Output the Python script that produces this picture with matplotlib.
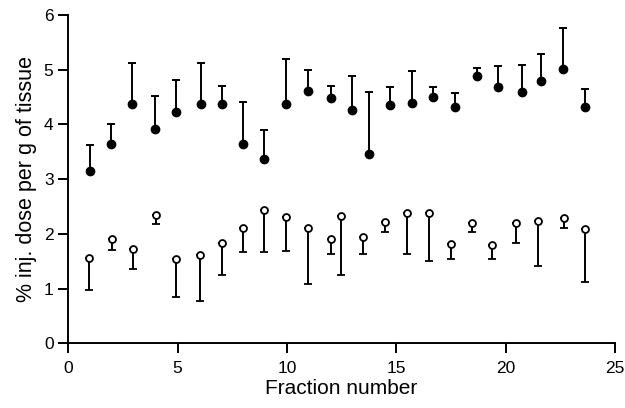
import numpy as np
import matplotlib
matplotlib.use('Agg')
import matplotlib.pyplot as plt

plt.rcParams['font.family'] = ['Liberation Sans', 'DejaVu Sans']

# filled circles: mean with upper error bar
filled_x = [1.0, 1.98, 2.94, 3.98, 4.95, 6.06, 7.03, 8.0, 8.95, 9.98, 10.97, 12.03,
            12.97, 13.76, 14.71, 15.74, 16.7, 17.7, 18.7, 19.65, 20.73, 21.62, 22.64, 23.64]
filled_y = [3.15, 3.65, 4.37, 3.92, 4.23, 4.37, 4.37, 3.64, 3.37, 4.37, 4.61, 4.49,
            4.27, 3.46, 4.36, 4.39, 4.50, 4.31, 4.88, 4.69, 4.59, 4.79, 5.02, 4.31]
filled_top = [3.63, 4.01, 5.12, 4.52, 4.82, 5.13, 4.71, 4.41, 3.90, 5.19, 5.00, 4.71,
              4.88, 4.60, 4.69, 4.97, 4.68, 4.57, 5.04, 5.07, 5.08, 5.28, 5.77, 4.65]

# open circles: mean with lower error bar
open_x = [0.97, 2.01, 2.95, 4.0, 4.95, 6.05, 7.05, 8.0, 8.95, 9.98, 10.97, 12.0,
          12.48, 13.47, 14.47, 15.47, 16.5, 17.5, 18.45, 19.4, 20.47, 21.47, 22.66, 23.65]
open_y = [1.56, 1.90, 1.72, 2.35, 1.54, 1.62, 1.83, 2.11, 2.44, 2.30, 2.10, 1.91,
          2.33, 1.94, 2.22, 2.39, 2.38, 1.81, 2.20, 1.80, 2.20, 2.23, 2.29, 2.08]
open_bottom = [0.97, 1.71, 1.35, 2.18, 0.85, 0.77, 1.25, 1.66, 1.67, 1.68, 1.09, 1.64,
               1.24, 1.64, 2.03, 1.64, 1.51, 1.54, 2.03, 1.54, 1.83, 1.42, 2.11, 1.12]

fig = plt.figure(figsize=(6.25, 4.08), dpi=100)
ax = fig.add_axes([0.109, 0.1586, 0.875, 0.8047])

up = np.array(filled_top) - np.array(filled_y)
ax.errorbar(filled_x, filled_y, yerr=[np.zeros(len(up)), up], fmt='o', color='black',
            ms=6, elinewidth=1.4, capsize=3, capthick=1.4, zorder=3)

down = np.array(open_y) - np.array(open_bottom)
ax.errorbar(open_x, open_y, yerr=[down, np.zeros(len(down))], fmt='o', color='black',
            mfc='white', mec='black', mew=1.3, ms=5, elinewidth=1.4, capsize=3,
            capthick=1.4, zorder=3)

ax.set_xlim(0, 25)
ax.set_ylim(0, 6)
ax.set_xticks([0, 5, 10, 15, 20, 25])
ax.set_yticks([0, 1, 2, 3, 4, 5, 6])
ax.spines['top'].set_visible(False)
ax.spines['right'].set_visible(False)
ax.spines['left'].set_linewidth(1.4)
ax.spines['bottom'].set_linewidth(1.4)
ax.tick_params(direction='out', length=7, width=1.4, labelsize=12.5)
ax.tick_params(axis='x', pad=6)
ax.tick_params(axis='y', pad=3.5)
ax.set_xlabel('Fraction number', fontsize=15, labelpad=2)
ax.set_ylabel('% inj. dose per g of tissue', fontsize=15.5, labelpad=5)

fig.savefig('out.png', dpi=100)
